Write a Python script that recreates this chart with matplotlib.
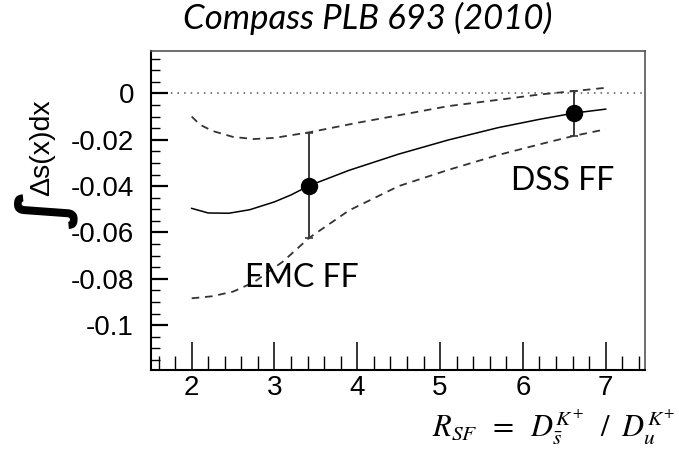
import matplotlib
matplotlib.use("Agg")
import matplotlib.pyplot as plt
from matplotlib.ticker import FixedLocator, MultipleLocator, FixedFormatter

# Central curve: integral of Delta s versus R_SF
central_x = [2.0, 2.2, 2.45, 2.7, 3.0, 3.2, 3.42, 3.9, 4.5, 5.1, 5.7, 6.2, 6.62, 7.0]
central_y = [-0.0496, -0.0516, -0.0517, -0.0502, -0.0468, -0.0438, -0.0398, -0.0332,
             -0.0262, -0.0201, -0.0148, -0.0112, -0.0085, -0.0068]

# Upper and lower uncertainty bands
upper_x = [2.0, 2.1, 2.25, 2.5, 2.75, 3.0, 3.42, 4.0, 4.6, 5.1, 5.7, 6.2, 6.62, 7.0]
upper_y = [-0.0100, -0.0135, -0.0162, -0.0188, -0.0197, -0.0192, -0.0168, -0.0127,
           -0.0088, -0.0055, -0.0028, -0.0005, 0.0010, 0.0024]
lower_x = [2.0, 2.25, 2.5, 2.75, 3.1, 3.42, 3.9, 4.5, 5.1, 5.7, 6.2, 6.62, 7.0]
lower_y = [-0.0884, -0.0875, -0.0855, -0.0815, -0.0726, -0.0623, -0.0505, -0.0400,
           -0.0330, -0.0266, -0.0220, -0.0183, -0.0155]

# Measured points (EMC FF, DSS FF)
point_x = [3.42, 6.62]
point_y = [-0.0398, -0.0085]
point_err_lo = [0.0225, 0.0098]
point_err_hi = [0.0228, 0.0095]
point_names = ["EMC FF", "DSS FF"]

x_ticks = [2, 3, 4, 5, 6, 7]
x_tick_labels = ["2", "3", "4", "5", "6", "7"]
y_ticks = [0, -0.02, -0.04, -0.06, -0.08, -0.1]
y_tick_labels = ["0", "-0.02", "-0.04", "-0.06", "-0.08", "-0.1"]

W, H = 679, 473
plt.rcParams["mathtext.fontset"] = "stix"
fig = plt.figure(figsize=(W / 100, H / 100), dpi=100)
ax = fig.add_axes([150.7 / W, 1 - 369.5 / H, (645 - 150.7) / W, (369.5 - 50.7) / H])

ax.set_xlim(1.505, 7.475)
ax.set_ylim(-0.1191, 0.0184)

ax.axhline(0, color="#7a7a7a", lw=1.4, linestyle=(0, (0.8, 2.6)), zorder=1)

ax.plot(central_x, central_y, color="black", lw=1.1, zorder=3)
dash = (0, (4.2, 3.2))
ax.plot(upper_x, upper_y, color="#333333", lw=1.3, linestyle=dash, zorder=2)
ax.plot(lower_x, lower_y, color="#333333", lw=1.3, linestyle=dash, zorder=2)

ax.errorbar(point_x, point_y, yerr=[point_err_lo, point_err_hi], fmt="o",
            color="black", ms=11.5, ecolor="#3a3a3a", elinewidth=1.4,
            capsize=3, capthick=1.2, zorder=4)

label_font = ["Lato", "DejaVu Sans"]
ax.text(2.64, -0.0835, point_names[0], fontsize=23, family=label_font,
        ha="left", va="baseline")
ax.text(5.86, -0.0417, point_names[1], fontsize=23, family=label_font,
        ha="left", va="baseline")

# ROOT-like axes: inward ticks on left and bottom only
for side in ["left", "bottom"]:
    ax.spines[side].set_linewidth(1.5)
    ax.spines[side].set_color("black")
for side in ["top", "right"]:
    ax.spines[side].set_linewidth(1.2)
    ax.spines[side].set_color("#555555")

ax.xaxis.set_major_locator(FixedLocator(x_ticks))
ax.xaxis.set_major_formatter(FixedFormatter(x_tick_labels))
ax.xaxis.set_minor_locator(MultipleLocator(0.2))
ax.yaxis.set_major_locator(FixedLocator(y_ticks))
ax.yaxis.set_major_formatter(FixedFormatter(y_tick_labels))
ax.yaxis.set_minor_locator(MultipleLocator(0.005))

tick_font = "Liberation Sans"
ax.tick_params(axis="x", which="major", direction="in", length=20, width=1.1,
               pad=4, labelsize=20, labelfontfamily=tick_font, top=False)
ax.tick_params(axis="x", which="minor", direction="in", length=10, width=1.0, top=False)
ax.tick_params(axis="y", which="major", direction="in", length=12.5, width=1.6,
               pad=12, labelsize=20, labelfontfamily=tick_font, right=False)
ax.tick_params(axis="y", which="minor", direction="in", length=6.5, width=1.0, right=False)

# Y-axis title: large integral sign followed by the integrand
fig.text(42 / W, 1 - 148 / H, "\u0394s(x)dx", rotation=90, fontsize=20.5,
         family=tick_font, ha="center", va="center")
fig.text(45 / W, 1 - 209 / H, "\u222b", rotation=90, fontsize=47,
         family="DejaVu Sans", weight="bold", ha="center", va="center")

fig.text(368 / W, 1 - 18 / H, "Compass PLB 693 (2010)", fontsize=25,
         family=label_font, style="italic", ha="center", va="center")

fig.text(432 / W, 1 - 437 / H,
         r"$R_{SF}\;\;=\;\;D_{\bar{s}}^{K^{+}}\;\;\,/\;\;D_{u}^{K^{+}}$",
         fontsize=22, ha="left", va="baseline")

fig.savefig("out.png", dpi=100, facecolor="white")
